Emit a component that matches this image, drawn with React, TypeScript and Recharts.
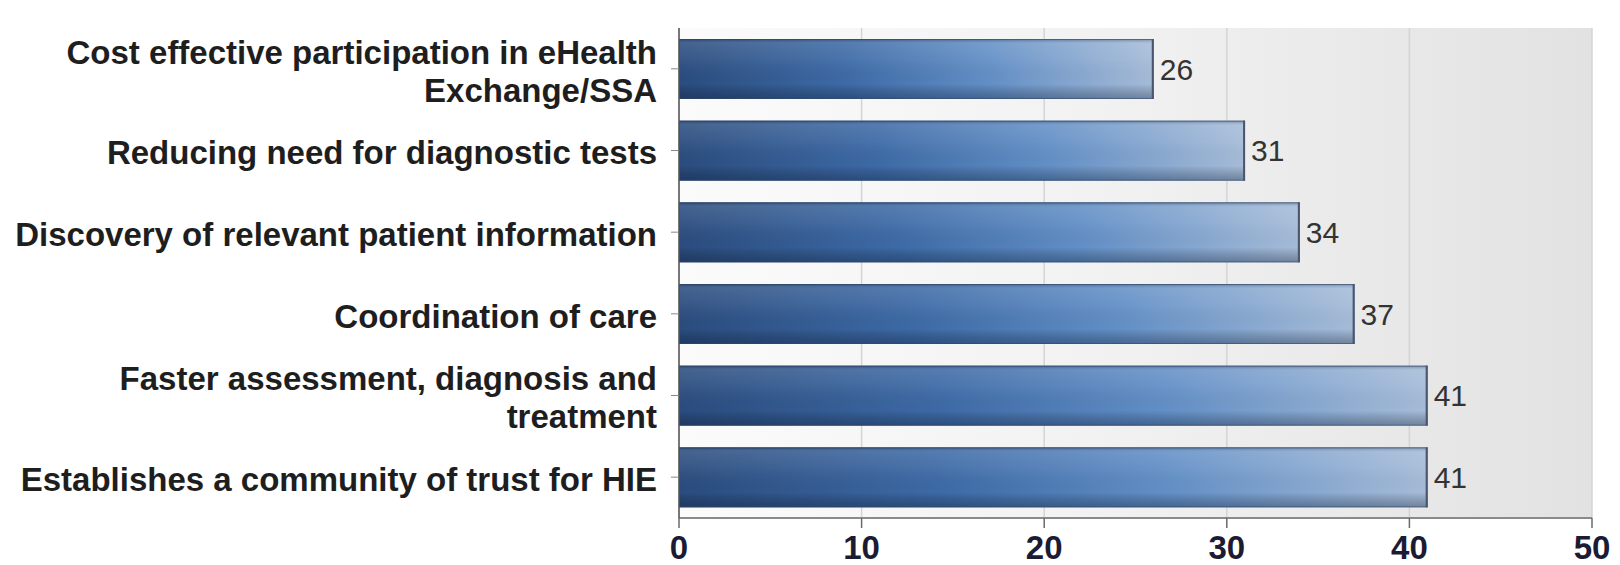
import React from "react";
import {
  BarChart,
  Bar,
  XAxis,
  YAxis,
  CartesianGrid,
  LabelList,
} from "recharts";

const categories = [
  "Cost effective participation in eHealth Exchange/SSA",
  "Reducing need for diagnostic tests",
  "Discovery of relevant patient information",
  "Coordination of care",
  "Faster assessment, diagnosis and treatment",
  "Establishes a community of trust for HIE",
];
const values = [26, 31, 34, 37, 41, 41];
const xTicks = [0, 10, 20, 30, 40, 50];

const data = categories.map((name, i) => ({ name, value: values[i] }));

const CAT_FONT = "'Liberation Sans', Arial, sans-serif";
const CAT_SIZE = 33;
const MAX_LABEL_W = 650;

let measureCtx: CanvasRenderingContext2D | null = null;
function measure(s: string): number {
  if (typeof document === "undefined") return s.length * CAT_SIZE * 0.55;
  if (!measureCtx) {
    const c = document.createElement("canvas");
    measureCtx = c.getContext("2d");
  }
  if (!measureCtx) return s.length * CAT_SIZE * 0.55;
  measureCtx.font = `bold ${CAT_SIZE}px ${CAT_FONT}`;
  return measureCtx.measureText(s).width;
}

function wrap(s: string): string[] {
  const words = s.split(" ");
  const lines: string[] = [];
  let cur = "";
  for (const w of words) {
    const cand = cur ? cur + " " + w : w;
    if (cur && measure(cand) > MAX_LABEL_W) {
      lines.push(cur);
      cur = w;
    } else {
      cur = cand;
    }
  }
  if (cur) lines.push(cur);
  return lines;
}

const CategoryTick = (props: any) => {
  const { x, y, payload } = props;
  const lines = wrap(String(payload.value));
  const lh = 38;
  const startY = y - ((lines.length - 1) * lh) / 2 + 2;
  return (
    <text
      x={x - 12}
      y={startY}
      textAnchor="end"
      fill="#1e1e1e"
      fontFamily={CAT_FONT}
      fontSize={CAT_SIZE}
      fontWeight={700}
    >
      {lines.map((l, i) => (
        <tspan key={i} x={x - 12} y={startY + i * lh} dy="0.36em">
          {l}
        </tspan>
      ))}
    </text>
  );
};

const ValueTick = (props: any) => {
  const { x, y, payload } = props;
  return (
    <text
      x={x}
      y={y}
      dy={29}
      textAnchor="middle"
      fill="#1b1b33"
      fontFamily="'Liberation Sans Narrow', 'Liberation Sans', Arial, sans-serif"
      fontSize={33}
      fontWeight={700}
    >
      {payload.value}
    </text>
  );
};

const BarShape = (props: any) => {
  const { x, y, width, height } = props;
  if (width <= 0) return null;
  return (
    <g>
      <rect x={x} y={y} width={width} height={height} fill="url(#barH)" />
      <rect x={x} y={y} width={width} height={height} fill="url(#barV)" />
      <rect
        x={x + 0.5}
        y={y + 0.5}
        width={width - 1}
        height={height - 1}
        fill="none"
        stroke="#33486a"
        strokeOpacity={0.55}
        strokeWidth={1}
      />
      <line
        x1={x + width - 1}
        x2={x + width - 1}
        y1={y}
        y2={y + height}
        stroke="#4a5670"
        strokeWidth={2}
      />
    </g>
  );
};

export default function App() {
  return (
    <div style={{ position: "absolute", left: 0, top: 0, width: 1620, height: 565, background: "#ffffff" }}>
      <BarChart
        width={1620}
        height={565}
        data={data}
        layout="vertical"
        margin={{ top: 28, right: 28, bottom: 0, left: 0 }}
        barSize={60}
      >
        <defs>
          <linearGradient id="barH" x1="0" y1="0" x2="1" y2="0">
            <stop offset="0%" stopColor="#2a4c7e" />
            <stop offset="35%" stopColor="#3d6aa6" />
            <stop offset="65%" stopColor="#628fc6" />
            <stop offset="100%" stopColor="#a6bcd8" />
          </linearGradient>
          <linearGradient id="barV" x1="0" y1="0" x2="0" y2="1">
            <stop offset="0%" stopColor="#0c1a33" stopOpacity={0.35} />
            <stop offset="8%" stopColor="#ffffff" stopOpacity={0.12} />
            <stop offset="35%" stopColor="#ffffff" stopOpacity={0.06} />
            <stop offset="75%" stopColor="#000000" stopOpacity={0.0} />
            <stop offset="100%" stopColor="#0c1a33" stopOpacity={0.35} />
          </linearGradient>
          <linearGradient id="bgGrad" x1="0" y1="0" x2="1" y2="0">
            <stop offset="0%" stopColor="#fbfbfb" />
            <stop offset="45%" stopColor="#f2f2f2" />
            <stop offset="100%" stopColor="#e2e2e2" />
          </linearGradient>
        </defs>
        <CartesianGrid
          horizontal={false}
          stroke="#d4d4d4"
          strokeWidth={1.5}
          fill="url(#bgGrad)"
          fillOpacity={1}
        />
        <XAxis
          type="number"
          domain={[0, 50]}
          ticks={xTicks}
          interval={0}
          height={47}
          axisLine={{ stroke: "#8a8a8a", strokeWidth: 2 }}
          tickLine={{ stroke: "#6a6a6a", strokeWidth: 1.5 }}
          tickSize={10}
          tick={<ValueTick />}
        />
        <YAxis
          type="category"
          dataKey="name"
          width={679}
          axisLine={{ stroke: "#555555", strokeWidth: 1.5 }}
          tickLine={{ stroke: "#888888", strokeWidth: 1 }}
          tickSize={8}
          tick={<CategoryTick />}
          interval={0}
        />
        <Bar dataKey="value" shape={<BarShape />} isAnimationActive={false}>
          <LabelList
            dataKey="value"
            position="right"
            offset={6}
            fill="#333333"
            fontSize={30}
            fontFamily="'Liberation Sans', Arial, sans-serif"
          />
        </Bar>
      </BarChart>
    </div>
  );
}
